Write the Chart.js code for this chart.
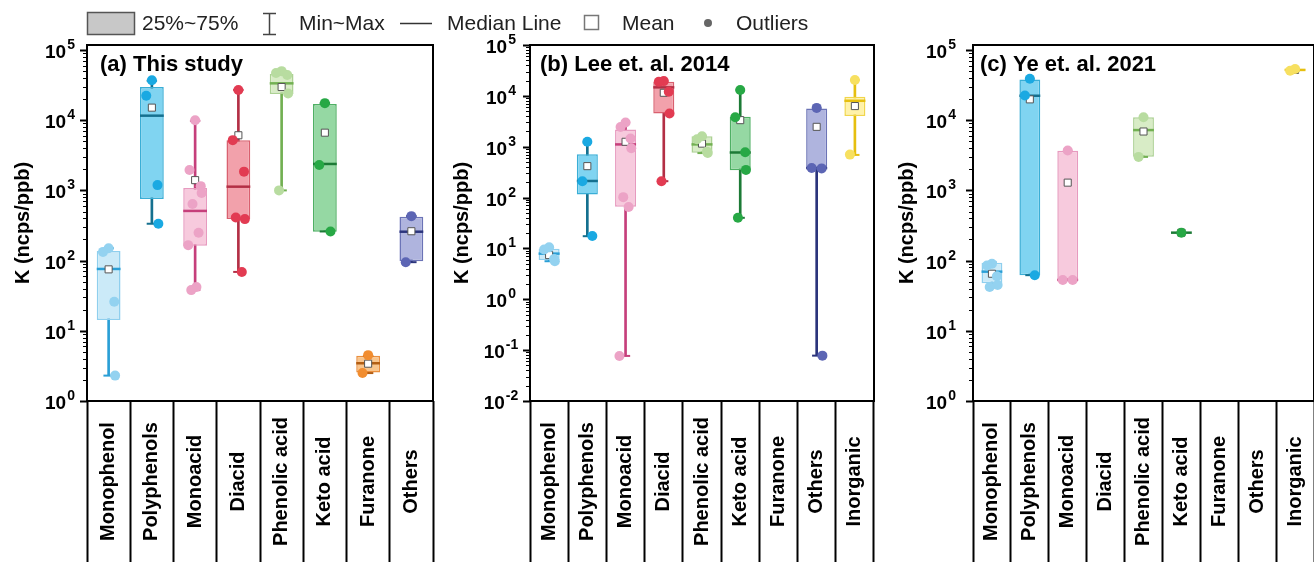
<!DOCTYPE html>
<html>
<head>
<meta charset="utf-8">
<script src="https://cdn.jsdelivr.net/npm/chart.js@4.4.1/dist/chart.umd.min.js"></script>
<style>
html,body{margin:0;padding:0;width:1314px;height:562px;overflow:hidden;background:#fff;font-family:Arial,"Liberation Sans",sans-serif;}
.panel{position:absolute;top:0;width:440px;height:562px;}
#legend{position:absolute;left:0;top:0;width:1314px;height:40px;z-index:2;}
.lt{position:absolute;top:11px;font-size:21px;line-height:24px;color:#222;white-space:nowrap;}
</style>
</head>
<body>
<div class="panel" style="left:0"><canvas id="ca" width="440" height="562"></canvas></div>
<div class="panel" style="left:440px"><canvas id="cb" width="440" height="562"></canvas></div>
<div class="panel" style="left:880px"><canvas id="cc" width="440" height="562"></canvas></div>
<div id="legend">
  <svg width="1314" height="40" style="position:absolute;left:0;top:0">
    <rect x="87.5" y="12.5" width="47" height="22" fill="#c8c8c8" stroke="#555" stroke-width="1.5"/>
    <path d="M263 13.5H276M269.5 13.5V34.5M263 34.5H276" stroke="#444" stroke-width="1.5" fill="none"/>
    <path d="M400 23.5H432" stroke="#333" stroke-width="1.5"/>
    <rect x="584.5" y="15.5" width="14" height="14" fill="#fff" stroke="#777" stroke-width="1.5"/>
    <circle cx="708" cy="23" r="4" fill="#666"/>
  </svg>
  <span class="lt" style="left:142px">25%~75%</span>
  <span class="lt" style="left:299px">Min~Max</span>
  <span class="lt" style="left:447px">Median Line</span>
  <span class="lt" style="left:622px">Mean</span>
  <span class="lt" style="left:736px">Outliers</span>
</div>
<script>
// categories
var catsA = ['Monophenol','Polyphenols','Monoacid','Diacid','Phenolic acid','Keto acid','Furanone','Others'];
var catsB = ['Monophenol','Polyphenols','Monoacid','Diacid','Phenolic acid','Keto acid','Furanone','Others','Inorganic'];
var catsC = catsB.slice();

// (a) This study
var aMin  = [2.3, 335, 38, 69, 1000, 260, 2.5, 95];
var aQ1   = [14.3, 755, 163, 390, 23600, 258, 2.55, 98];
var aMed  = [76, 11600, 510, 1130, 33500, 2380, 3.45, 258];
var aQ3   = [137, 29600, 1080, 5200, 45500, 17000, 4.4, 422];
var aMax  = [150, 36500, 9800, 27000, 50000, 17500, 4.4, 430];
var aMean = [75, 15100, 1400, 6100, 29700, 6640, 3.4, 262];
var aPts  = [
  [150, 133, 26, 2.3],
  [37000, 22300, 1190, 335],
  [10000, 1950, 1150, 920, 640, 250, 166, 42, 38],
  [27000, 5200, 1850, 390, 410, 69],
  [50000, 47000, 44000, 24000, 1000],
  [17500, 2300, 260],
  [4.5, 2.5],
  [430, 95]
];

// (b) Lee et. al. 2014
var bMin  = [5.6, 17.4, 0.077, 210, 750, 40, null, 0.078, 690];
var bQ1   = [5.9, 115, 66, 4500, 760, 346, null, 375, 4000];
var bMed  = [7.9, 212, 1110, 14700, 1110, 770, null, 380, 8000];
var bQ3   = [9.8, 714, 2190, 19000, 1600, 3880, null, 5660, 9600];
var bMax  = [10.5, 1215, 3000, 19500, 1600, 13000, null, 5800, 20500];
var bMean = [7.4, 415, 1250, 11500, 1150, 3330, null, 2460, 6300];
var bPts  = [
  [10.5, 9.5, 6.2, 5.6],
  [1250, 210, 17.5],
  [3000, 2450, 1450, 935, 102, 65, 0.077],
  [19500, 19000, 12000, 4500, 210],
  [1600, 1400, 800, 750],
  [13000, 3800, 780, 350, 40],
  [],
  [5800, 380, 375, 0.078],
  [20500, 700]
];

// (c) Ye et. al. 2021
var cMin  = [41.6, 62, 53, null, 3000, 250, null, null, 50500];
var cQ1   = [47.5, 62, 53, null, 3020, 250, null, null, 50500];
var cMed  = [69.6, 22300, 53, null, 7230, 250, null, null, 52000];
var cQ3   = [93, 38000, 3680, null, 11000, 250, null, null, 53500];
var cMax  = [95, 39000, 3700, null, 11000, 250, null, null, 53500];
var cMean = [65, 19800, 1290, null, 6900, 250, null, null, 52000];
var cPts  = [
  [90, 85, 60, 45, 42],
  [39000, 22500, 62],
  [3700, 53, 53],
  [],
  [11000, 3000],
  [250],
  [],
  [],
  [53500, 50500]
];

var FONT = 'Arial, "Liberation Sans", sans-serif';
var style = {
  'Monophenol':    {fill:'#cbeaf8', edge:'#8fcfee', line:'#2a9fd6', dot:'#93d2f0'},
  'Polyphenols':   {fill:'#80d4f1', edge:'#3aaed6', line:'#15708f', dot:'#1aa9e2'},
  'Monoacid':      {fill:'#f7cadd', edge:'#e79abf', line:'#c63f7b', dot:'#eca3c6'},
  'Diacid':        {fill:'#f2a1ab', edge:'#d9606f', line:'#b32f45', dot:'#e23b52'},
  'Phenolic acid': {fill:'#d8ecc6', edge:'#acd193', line:'#72b052', dot:'#b8dca0'},
  'Keto acid':     {fill:'#95d8a3', edge:'#4fb064', line:'#1c7a36', dot:'#27a845'},
  'Furanone':      {fill:'#f9c58c', edge:'#ea8f3e', line:'#b35e13', dot:'#f18d30'},
  'Others':        {fill:'#afb4de', edge:'#6b73b6', line:'#2b347c', dot:'#5c65b4'},
  'Inorganic':     {fill:'#fff2aa', edge:'#f1d64c', line:'#e6bf10', dot:'#f7e060'}
};
var jit = [0, -0.13, 0.13, 0.15, -0.06, 0.08, -0.16, 0.03, -0.09];//horizontal spread of dots

var decor = {
  id: 'decor',
  afterDraw: function(chart, args, o){
    var ctx = chart.ctx, a = chart.chartArea, x = chart.scales.x, y = chart.scales.y;
    ctx.save();
    ctx.strokeStyle = '#000';
    ctx.fillStyle = '#000';
    // log ticks, long ones and 10^n labels at decades
    var e0 = Math.floor(Math.log10(y.min)), e1 = Math.ceil(Math.log10(y.max));
    for (var e = e0; e <= e1; e++) {
      for (var k = 1; k < 10; k++) {
        var v = k * Math.pow(10, e);
        if (v < y.min * 0.999 || v > y.max * 1.001) continue;
        var py = Math.round(y.getPixelForValue(v)) + 0.5;
        ctx.lineWidth = k === 1 ? 2 : 1;
        ctx.beginPath();
        ctx.moveTo(a.left - (k === 1 ? 7 : 4), py);
        ctx.lineTo(a.left, py);
        ctx.stroke();
        if (k === 1) {
          var ex = String(e);
          ctx.textAlign = 'left';
          ctx.textBaseline = 'middle';
          ctx.font = 'bold 19px ' + FONT;
          var w1 = ctx.measureText('10').width;
          ctx.font = 'bold 14px ' + FONT;
          var w2 = ctx.measureText(ex).width;
          var sx = o.labX - (w1 + w2 + 1) / 2;
          ctx.font = 'bold 19px ' + FONT;
          ctx.fillText('10', sx, py + 2);
          ctx.font = 'bold 14px ' + FONT;
          ctx.fillText(ex, sx + w1 + 1, py - 5);
        }
      }
    }
    ctx.lineWidth = 2;
    ctx.strokeRect(a.left, a.top, a.right - a.left, a.bottom - a.top);
    // category names, centred in the band under the plot
    ctx.font = 'bold 20px ' + FONT;
    ctx.textAlign = 'center';
    ctx.textBaseline = 'middle';
    var cy = (a.bottom + chart.height) / 2;
    chart.data.labels.forEach(function(lab, i){
      ctx.save();
      ctx.translate(x.getPixelForValue(i), cy);
      ctx.rotate(-Math.PI / 2);
      ctx.fillText(lab, 0, 0);
      ctx.restore();
    });
    ctx.font = 'bold 22px ' + FONT;
    ctx.textAlign = 'left';
    ctx.textBaseline = 'alphabetic';
    ctx.fillText(o.text, a.left + o.dx, 71);
    ctx.restore();
  }
};

function makeChart(id, title, cats, lo, q1, med, q3, hi, mean, pts, yMin, yMax, lay){
  var n = cats.length;
  var st = cats.map(function(c){ return style[c]; });
  var pair = function(p, q){ return cats.map(function(c, i){ return p[i] == null ? null : [p[i], q[i]]; }); };
  var unit = function(c){ return c.chart.scales.x ? c.chart.scales.x.width / n : 40; };

  var caps = [], capCol = [], meds = [], medCol = [], means = [], dots = [], dotCol = [];
  cats.forEach(function(c, i){
    if (lo[i] != null) {
      caps.push({x:i, y:lo[i]}, {x:i, y:hi[i]});
      capCol.push(st[i].line, st[i].line);
    }
    if (med[i] != null) { meds.push({x:i, y:med[i]}); medCol.push(st[i].line); }
    if (mean[i] != null) means.push({x:i, y:mean[i]});
    pts[i].forEach(function(v, j){
      dots.push({x:i + jit[j % jit.length], y:v});
      dotCol.push(st[i].dot);
    });
  });

  return new Chart(document.getElementById(id), {
    type: 'bar',
    data: {
      labels: cats,
      datasets: [{
        type: 'bar', data: pair(lo, hi), xAxisID: 'x',
        backgroundColor: st.map(function(s){ return s.line; }),
        barThickness: 2, grouped: false, order: 6
      },{
        type: 'bar', data: pair(q1, q3), xAxisID: 'x',
        backgroundColor: st.map(function(s){ return s.fill; }),
        borderColor: st.map(function(s){ return s.edge; }),
        borderWidth: 1.5, borderSkipped: false,
        barPercentage: 0.55, categoryPercentage: 1, grouped: false, order: 5
      },{
        type: 'scatter', data: caps, xAxisID: 'xp',
        pointStyle: 'line', pointBorderColor: capCol, pointBorderWidth: 2,
        pointRadius: function(c){ return unit(c) * 0.12; }, order: 4
      },{
        type: 'scatter', data: meds, xAxisID: 'xp',
        pointStyle: 'line', pointBorderColor: medCol, pointBorderWidth: 2.5,
        pointRadius: function(c){ return unit(c) * 0.275; }, order: 3
      },{
        type: 'scatter', data: means, xAxisID: 'xp',
        pointStyle: 'rect', pointRadius: 5,
        pointBackgroundColor: '#fff', pointBorderColor: '#555', pointBorderWidth: 1, order: 2
      },{
        type: 'scatter', data: dots, xAxisID: 'xp',
        pointStyle: 'circle', pointRadius: 5,
        pointBackgroundColor: dotCol, pointBorderWidth: 0, order: 1
      }]
    },
    options: {
      responsive: false,
      animation: false,
      devicePixelRatio: 1,
      layout: { padding: { left: 0, right: lay.right, top: 45, bottom: 0 } },
      plugins: {
        legend: { display: false },
        tooltip: { enabled: false },
        decor: { text: title, dx: lay.dx, labX: lay.labX }
      },
      scales: {
        x: {
          type: 'category', offset: true,
          ticks: { display: false },
          grid: { display: true, offset: true, drawOnChartArea: false, drawTicks: true,
                  tickLength: 161, tickColor: '#000', tickWidth: 2 },
          border: { display: false }
        },
        xp: { type: 'linear', display: false, offset: false, min: -0.5, max: n - 0.5,
              grid: { offset: false } },
        y: {
          type: 'logarithmic', min: yMin, max: yMax,
          grid: { display: false, drawTicks: false },
          border: { display: false },
          ticks: { display: false },
          title: {
            display: true, text: 'K (ncps/ppb)', color: '#000',
            font: { family: FONT, size: 20, weight: 'bold' },
            padding: { top: lay.titlePad, bottom: 0 }
          },
          afterFit: function(s){ s.width = lay.axisW; }
        }
      }
    },
    plugins: [decor]
  });
}

makeChart('ca', '(a) This study', catsA, aMin, aQ1, aMed, aQ3, aMax, aMean, aPts, 1, 117800,
  { axisW: 87, right: 7, labX: 60, titlePad: 11, dx: 13 });
makeChart('cb', '(b) Lee et. al. 2014', catsB, bMin, bQ1, bMed, bQ3, bMax, bMean, bPts, 0.01, 100000,
  { axisW: 90, right: 5, labX: 61, titlePad: 10, dx: 10 });
makeChart('cc', '(c) Ye et. al. 2021', catsC, cMin, cQ1, cMed, cQ3, cMax, cMean, cPts, 1, 117800,
  { axisW: 93, right: 2, labX: 61, titlePad: 15, dx: 7 });
</script>
</body>
</html>
